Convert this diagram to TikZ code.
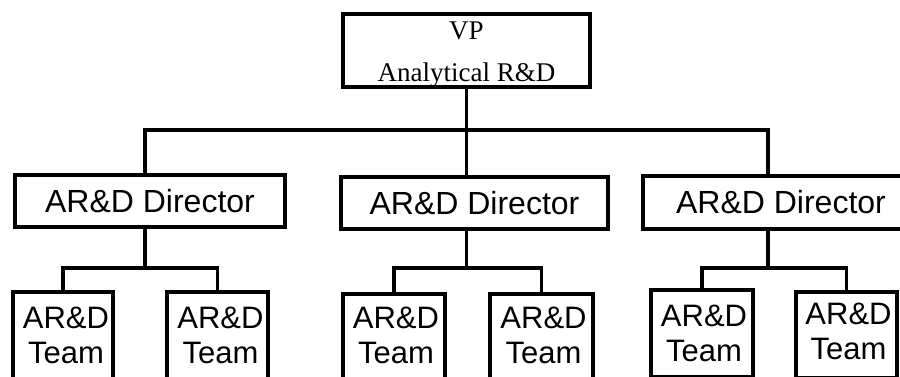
\documentclass[tikz,border=0pt]{standalone}
\usepackage{fontspec}
\setmainfont{Liberation Serif}
\setsansfont{Liberation Sans}
\begin{document}
\begin{tikzpicture}[x=1pt,y=-1pt,
  box/.style={draw, line width=3.5pt, rectangle, inner sep=0pt},
  vptext/.style={font=\fontsize{27}{42}\selectfont\rmfamily, align=center, anchor=base},
  dirtext/.style={font=\fontsize{32}{36}\selectfont\sffamily},
  teamtext/.style={font=\fontsize{31}{35}\selectfont\sffamily, align=center, anchor=base},
  wire/.style={line width=3.5pt}]
\useasboundingbox (0,0) rectangle (900,377);
\fill[white] (0,0) rectangle (900,377);
\clip (0,0) rectangle (900,377);
% top
\node[box, minimum width=247pt, minimum height=73pt] (vp) at (466.5,50.5) {};
\node[vptext] (vpx) at (466.5,82) {VP\\Analytical R\&D};
% directors
\node[box, dirtext, minimum width=270pt, minimum height=52pt] (d1) at (150,201) {AR\&D Director};
\node[box, dirtext, minimum width=267pt, minimum height=52pt] (d2) at (474.5,203) {AR\&D Director};
\node[box, dirtext, minimum width=276pt, minimum height=53pt] (d3) at (781,202.5) {AR\&D Director};
% teams
\node[box, minimum width=100pt, minimum height=105pt, anchor=north] (t1) at (63,290) {};
\node[box, minimum width=101pt, minimum height=105pt, anchor=north] (t2) at (217.5,290) {};
\node[box, minimum width=102pt, minimum height=105pt, anchor=north] (t3) at (394,292) {};
\node[box, minimum width=103pt, minimum height=105pt, anchor=north] (t4) at (541.5,292) {};
\node[box, minimum width=102pt, minimum height=87pt, anchor=north] (t5) at (702,288) {};
\node[box, minimum width=101pt, minimum height=86pt, anchor=north] (t6) at (846.5,290) {};
\node[teamtext] (t1x) at (66,363) {AR\&D\\Team};
\node[teamtext] (t2x) at (220.5,363) {AR\&D\\Team};
\node[teamtext] (t3x) at (396,363) {AR\&D\\Team};
\node[teamtext] (t4x) at (543.5,363) {AR\&D\\Team};
\node[teamtext] (t5x) at (704,361) {AR\&D\\Team};
\node[teamtext] (t6x) at (848.5,359) {AR\&D\\Team};
% connectors
\coordinate (b1) at (145,130);
\coordinate (b3) at (768,130);
\draw[wire] (vp.south) -- (vp.south |- b1);
\draw[wire] (b1 |- d1.north) -- (b1) -- (b3) -- (b3 |- d3.north);
\draw[wire] (vp.south |- b1) -- (vp.south |- d2.north);
\coordinate (s1) at (145,268);
\coordinate (s2) at (466.5,268);
\coordinate (s3) at (768,268);
\draw[wire] (b1 |- d1.south) -- (s1);
\draw[wire] (s2 |- d2.south) -- (s2);
\draw[wire] (b3 |- d3.south) -- (s3);
\draw[wire] (t1.north) |- (s1) -| (t2.north);
\draw[wire] (t3.north) |- (s2) -| (t4.north);
\draw[wire] (t5.north) |- (s3) -| (t6.north);
\end{tikzpicture}
\end{document}
